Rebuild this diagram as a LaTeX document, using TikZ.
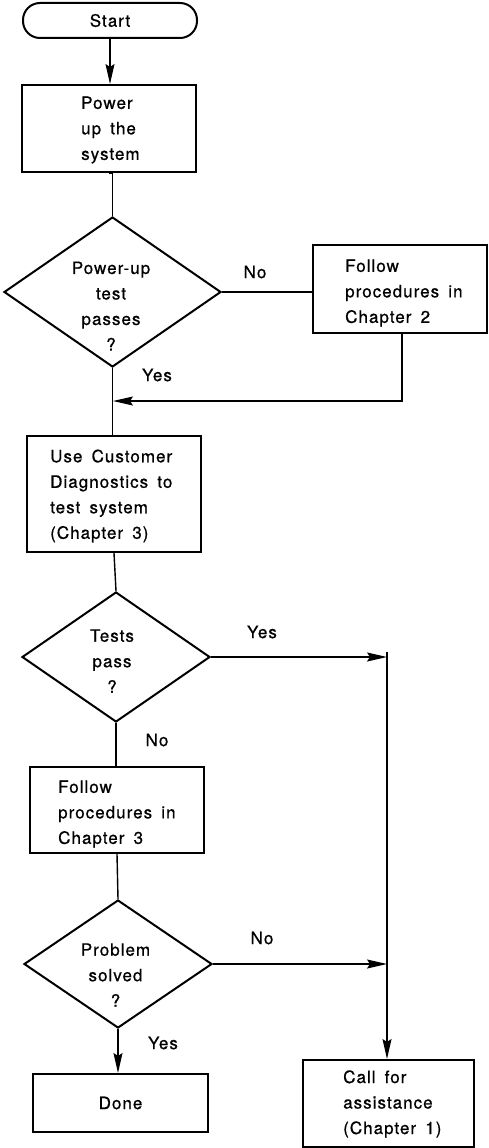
\documentclass[tikz,border=0pt]{standalone}
\usepackage{fontspec}
\setmainfont{TeX Gyre Heros}[LetterSpace=6,WordSpace=1.6,FakeBold=0.7]
\usetikzlibrary{shapes.geometric,arrows.meta}
\begin{document}
\begin{tikzpicture}[x=1pt,y=-1pt,
  every node/.style={font=\fontsize{17}{25.5}\selectfont},
  term/.style={draw, rectangle, rounded corners=17pt, line width=2pt, inner sep=0pt},
  box/.style={draw, rectangle, line width=2pt, inner sep=0pt},
  choice/.style={draw, diamond, line width=2pt, inner sep=0pt},
  txt/.style={align=left, inner sep=0pt, anchor=west},
  ctxt/.style={align=center, inner sep=0pt},
  flow/.style={line width=1.4pt},
  arr/.style={flow, -{Stealth[length=20pt,width=9pt,inset=3pt]}}]
  % page
  \fill[white] (0,0) rectangle (488,1148);
  \path[use as bounding box] (0,0) rectangle (488,1148);

  % shapes
  \node[term, minimum width=174pt, minimum height=35pt] (start) at (110,20.5) {Start};
  \node[box, minimum width=174pt, minimum height=87pt] (power) at (109,128.5) {};
  \node[txt] (power-t) at (81,130) {Power\\up the\\system};

  \node[choice, minimum width=217pt, minimum height=150pt] (d1) at (112.5,292) {};
  \node[ctxt] (d1-t) at (111,306) {Power-up\\test\\passes\\?};

  \node[box, minimum width=174pt, minimum height=88pt] (f2) at (400,289) {};
  \node[txt] (f2-t) at (345,293) {Follow\\procedures in\\Chapter 2};

  \node[box, minimum width=174pt, minimum height=116pt] (diag) at (114,494) {};
  \node[txt] (diag-t) at (50,496) {Use Customer\\Diagnostics to\\test system\\(Chapter 3)};

  \node[choice, minimum width=188pt, minimum height=130pt] (d2) at (116,657) {};
  \node[ctxt] (d2-t) at (112,661) {Tests\\pass\\?};

  \node[box, minimum width=174pt, minimum height=86pt] (f3) at (117,810) {};
  \node[txt] (f3-t) at (58,814) {Follow\\procedures in\\Chapter 3};

  \node[choice, minimum width=188pt, minimum height=128pt] (d3) at (118,964) {};
  \node[ctxt] (d3-t) at (115.5,975) {Problem\\solved\\?};

  \node[box, minimum width=175pt, minimum height=58pt] (done) at (120.5,1103) {Done};

  \node[box, minimum width=171pt, minimum height=87pt] (call) at (388.5,1103.5) {};
  \node[txt] (call-t) at (343,1104) {Call for\\assistance\\(Chapter 1)};

  % junction points on the right-hand trunk
  \coordinate (m1) at (113,401);
  \coordinate (jtop) at (387,652);
  \coordinate (j2) at (387,657);
  \coordinate (j3) at (387,964);

  % connectors
  \draw[arr] (start.south) -- (start.south |- power.north);
  \draw[flow] (power.south) -- (power.south -| d1.north) -- (d1.north);
  \draw[flow] (d1.east) -- (d1.east -| f2.west);
  \draw[arr] ([xshift=2pt]f2.south) |- (m1);
  \draw[flow] (d1.south) -- (d1.south |- diag.north);
  \draw[flow] (diag.south) -- (d2.north);
  \draw[arr] (d2.east) -- (j2);
  \draw[arr] (jtop) -- (jtop |- call.north);
  \draw[flow] (d2.south) -- (d2.south |- f3.north);
  \draw[flow] (f3.south) -- (d3.north);
  \draw[arr] (d3.east) -- (j3);
  \draw[arr] (d3.south) -- (d3.south |- done.north);

  % branch labels
  \node[ctxt] (no1) at (255,272) {No};
  \node[ctxt] (yes1) at (157,375) {Yes};
  \node[ctxt] (yes2) at (262,632) {Yes};
  \node[ctxt] (no2) at (157,740) {No};
  \node[ctxt] (no3) at (262,938) {No};
  \node[ctxt] (yes3) at (163,1043) {Yes};
\end{tikzpicture}
\end{document}
